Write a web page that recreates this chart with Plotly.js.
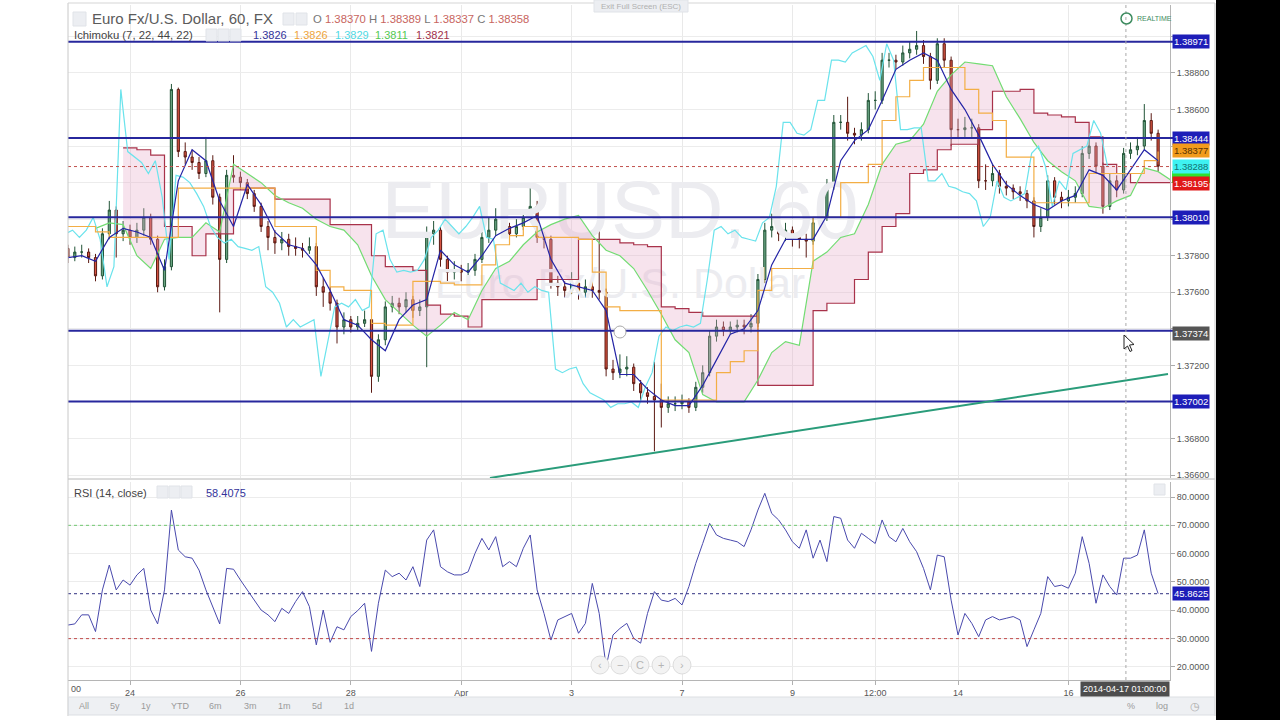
<!DOCTYPE html>
<html><head><meta charset="utf-8">
<script src="https://cdn.plot.ly/plotly-3.0.1.min.js"></script>
<style>html,body{margin:0;padding:0;background:#fff;overflow:hidden}#chart{width:1280px;height:720px}</style>
</head><body><div id="chart"></div>
<script>
// ---- DATA (EUR/USD, 60 min chart; bars aggregated every 3 hours) ----
// hours are counted from 2014-03-24 00:00 (trading hours)
const firstHour = -27;
const barStepHours = 3;
const lineStepHours = 6;
const chikouShiftHours = 22;

const openP = [1.3784,1.3779,1.3782,1.3782,1.3779,1.3769,1.3792,1.3805,1.3792,1.3794,
1.3790,1.3794,1.3801,1.3789,1.3763,1.3774,1.3871,1.3837,1.3834,1.3831,
1.3825,1.3832,1.3812,1.3778,1.3824,1.3823,1.3820,1.3814,1.3807,1.3796,
1.3790,1.3787,1.3789,1.3785,1.3784,1.3783,1.3785,1.3763,1.3760,1.3754,
1.3741,1.3745,1.3741,1.3743,1.3745,1.3714,1.3734,1.3752,1.3754,1.3752,
1.3756,1.3750,1.3752,1.3792,1.3794,1.3778,1.3771,1.3772,1.3771,1.3772,
1.3778,1.3790,1.3794,1.3800,1.3796,1.3792,1.3796,1.3801,1.3807,1.3790,
1.3789,1.3765,1.3763,1.3761,1.3765,1.3760,1.3763,1.3761,1.3760,1.3718,
1.3716,1.3718,1.3719,1.3710,1.3705,1.3703,1.3701,1.3697,1.3699,1.3699,
1.3700,1.3697,1.3708,1.3716,1.3736,1.3741,1.3739,1.3741,1.3742,1.3741,
1.3743,1.3767,1.3794,1.3796,1.3792,1.3794,1.3790,1.3789,1.3788,1.3798,
1.3801,1.3818,1.3853,1.3853,1.3847,1.3846,1.3849,1.3865,1.3865,1.3887,
1.3887,1.3886,1.3891,1.3893,1.3895,1.3889,1.3876,1.3896,1.3887,1.3849,
1.3849,1.3850,1.3850,1.3821,1.3821,1.3825,1.3818,1.3817,1.3815,1.3814,
1.3810,1.3796,1.3801,1.3821,1.3812,1.3810,1.3812,1.3814,1.3836,1.3840,
1.3829,1.3807,1.3821,1.3816,1.3836,1.3838,1.3840,1.3854,1.3847];

const highP = [1.3786,1.3785,1.3786,1.3784,1.3781,1.3795,1.3810,1.3807,1.3799,1.3797,
1.3798,1.3806,1.3803,1.3791,1.3778,1.3874,1.3872,1.3842,1.3838,1.3834,
1.3845,1.3835,1.3814,1.3827,1.3835,1.3826,1.3822,1.3816,1.3809,1.3799,
1.3794,1.3793,1.3792,1.3790,1.3787,1.3790,1.3787,1.3768,1.3763,1.3756,
1.3749,1.3747,1.3747,1.3750,1.3748,1.3737,1.3755,1.3758,1.3757,1.3760,
1.3758,1.3756,1.3796,1.3799,1.3796,1.3780,1.3777,1.3775,1.3776,1.3781,
1.3793,1.3801,1.3806,1.3804,1.3798,1.3800,1.3805,1.3819,1.3810,1.3793,
1.3791,1.3769,1.3766,1.3771,1.3768,1.3767,1.3766,1.3805,1.3762,1.3723,
1.3726,1.3725,1.3721,1.3712,1.3708,1.3722,1.3710,1.3703,1.3703,1.3704,
1.3702,1.3711,1.3720,1.3739,1.3745,1.3744,1.3744,1.3745,1.3745,1.3748,
1.3770,1.3798,1.3803,1.3799,1.3798,1.3796,1.3793,1.3792,1.3801,1.3806,
1.3822,1.3857,1.3857,1.3867,1.3850,1.3853,1.3869,1.3870,1.3891,1.3891,
1.3890,1.3895,1.3897,1.3903,1.3898,1.3891,1.3899,1.3899,1.3889,1.3855,
1.3856,1.3855,1.3852,1.3830,1.3830,1.3827,1.3821,1.3819,1.3818,1.3816,
1.3812,1.3806,1.3824,1.3823,1.3815,1.3816,1.3818,1.3840,1.3845,1.3842,
1.3831,1.3825,1.3824,1.3839,1.3842,1.3845,1.3863,1.3858,1.3849];

const lowP = [1.3776,1.3777,1.3779,1.3776,1.3766,1.3767,1.3789,1.3779,1.3788,1.3786,
1.3787,1.3791,1.3786,1.3760,1.3761,1.3772,1.3834,1.3830,1.3827,1.3822,
1.3823,1.3808,1.3749,1.3776,1.3820,1.3816,1.3811,1.3804,1.3793,1.3783,
1.3781,1.3783,1.3780,1.3780,1.3779,1.3781,1.3758,1.3752,1.3750,1.3732,
1.3737,1.3738,1.3739,1.3741,1.3705,1.3711,1.3731,1.3749,1.3748,1.3749,
1.3746,1.3747,1.3719,1.3786,1.3774,1.3765,1.3767,1.3766,1.3768,1.3769,
1.3776,1.3787,1.3791,1.3792,1.3789,1.3790,1.3794,1.3799,1.3787,1.3784,
1.3762,1.3758,1.3757,1.3759,1.3756,1.3757,1.3757,1.3756,1.3714,1.3712,
1.3713,1.3714,1.3706,1.3701,1.3699,1.3673,1.3686,1.3694,1.3695,1.3696,
1.3694,1.3695,1.3705,1.3714,1.3733,1.3736,1.3737,1.3738,1.3737,1.3738,
1.3741,1.3765,1.3790,1.3788,1.3788,1.3785,1.3784,1.3779,1.3786,1.3795,
1.3799,1.3816,1.3849,1.3843,1.3841,1.3843,1.3847,1.3860,1.3863,1.3883,
1.3882,1.3884,1.3888,1.3890,1.3885,1.3871,1.3874,1.3883,1.3840,1.3844,
1.3845,1.3845,1.3817,1.3816,1.3818,1.3814,1.3813,1.3811,1.3810,1.3806,
1.3790,1.3793,1.3799,1.3808,1.3806,1.3807,1.3809,1.3812,1.3833,1.3825,
1.3803,1.3805,1.3812,1.3814,1.3833,1.3835,1.3838,1.3843,1.3826];

const closeP = [1.3779,1.3782,1.3782,1.3779,1.3769,1.3792,1.3805,1.3792,1.3794,1.3790,
1.3794,1.3801,1.3789,1.3763,1.3774,1.3871,1.3837,1.3834,1.3831,1.3825,
1.3832,1.3812,1.3778,1.3824,1.3823,1.3820,1.3814,1.3807,1.3796,1.3790,
1.3787,1.3789,1.3785,1.3784,1.3783,1.3785,1.3763,1.3760,1.3754,1.3741,
1.3745,1.3741,1.3743,1.3745,1.3714,1.3734,1.3752,1.3754,1.3752,1.3756,
1.3750,1.3752,1.3792,1.3794,1.3778,1.3771,1.3772,1.3771,1.3772,1.3778,
1.3790,1.3794,1.3800,1.3796,1.3792,1.3796,1.3801,1.3807,1.3790,1.3789,
1.3765,1.3763,1.3761,1.3765,1.3760,1.3763,1.3761,1.3760,1.3718,1.3716,
1.3718,1.3719,1.3710,1.3705,1.3703,1.3701,1.3697,1.3699,1.3699,1.3700,
1.3697,1.3708,1.3716,1.3736,1.3741,1.3739,1.3741,1.3742,1.3741,1.3743,
1.3767,1.3794,1.3796,1.3792,1.3794,1.3790,1.3789,1.3788,1.3798,1.3801,
1.3818,1.3853,1.3853,1.3847,1.3846,1.3849,1.3865,1.3865,1.3887,1.3887,
1.3886,1.3891,1.3893,1.3895,1.3889,1.3876,1.3896,1.3887,1.3849,1.3849,
1.3850,1.3850,1.3821,1.3821,1.3825,1.3818,1.3817,1.3815,1.3814,1.3810,
1.3796,1.3801,1.3821,1.3812,1.3810,1.3812,1.3814,1.3836,1.3840,1.3829,
1.3807,1.3821,1.3816,1.3836,1.3838,1.3840,1.3854,1.3847,1.3829];

// Ichimoku (7, 22, 44, 22) lines, sampled every 6 hours
const tenkan = [1.3779,1.3780,1.3777,1.3790,1.3795,1.3793,1.3790,1.3772,1.3821,1.3838,
1.3832,1.3810,1.3796,1.3819,1.3808,1.3793,1.3786,1.3784,1.3775,1.3761,
1.3745,1.3742,1.3734,1.3728,1.3745,1.3753,1.3756,1.3783,1.3775,1.3771,
1.3780,1.3791,1.3795,1.3798,1.3802,1.3778,1.3765,1.3763,1.3761,1.3750,
1.3715,1.3715,1.3707,1.3701,1.3698,1.3698,1.3709,1.3723,1.3737,1.3740,
1.3750,1.3775,1.3789,1.3789,1.3789,1.3802,1.3832,1.3843,1.3849,1.3865,
1.3882,1.3887,1.3891,1.3887,1.3871,1.3860,1.3846,1.3830,1.3819,1.3813,
1.3808,1.3805,1.3810,1.3813,1.3827,1.3824,1.3816,1.3827,1.3838,1.3832];

const kijun = [1.3796,1.3796,1.3793,1.3790,1.3790,1.3790,1.3790,1.3790,1.3817,1.3817,
1.3817,1.3817,1.3817,1.3817,1.3817,1.3796,1.3796,1.3796,1.3772,1.3763,
1.3761,1.3761,1.3743,1.3742,1.3742,1.3766,1.3766,1.3765,1.3764,1.3764,
1.3775,1.3786,1.3791,1.3796,1.3790,1.3790,1.3790,1.3789,1.3771,1.3752,
1.3750,1.3750,1.3750,1.3701,1.3701,1.3701,1.3701,1.3716,1.3722,1.3728,
1.3761,1.3773,1.3773,1.3773,1.3801,1.3801,1.3820,1.3820,1.3830,1.3854,
1.3867,1.3876,1.3883,1.3883,1.3883,1.3871,1.3858,1.3854,1.3834,1.3834,
1.3809,1.3809,1.3809,1.3809,1.3825,1.3825,1.3825,1.3825,1.3832,1.3837];

const spanA = [null,null,1.3795,1.3798,1.3797,1.3780,1.3773,1.3789,1.3790,1.3790,
1.3798,1.3793,1.3830,1.3825,1.3820,1.3813,1.3809,1.3806,1.3800,1.3796,
1.3794,1.3786,1.3769,1.3756,1.3749,1.3742,1.3736,1.3742,1.3749,1.3745,
1.3761,1.3773,1.3777,1.3786,1.3793,1.3797,1.3800,1.3802,1.3791,1.3783,
1.3780,1.3773,1.3761,1.3748,1.3734,1.3727,1.3704,1.3700,1.3700,1.3700,
1.3712,1.3727,1.3733,1.3731,1.3777,1.3782,1.3790,1.3792,1.3808,1.3830,
1.3841,1.3843,1.3852,1.3870,1.3879,1.3886,1.3885,1.3884,1.3867,1.3855,
1.3842,1.3832,1.3826,1.3821,1.3807,1.3806,1.3810,1.3813,1.3828,1.3826,
1.3821];

const spanB = [null,null,null,null,1.3839,1.3838,1.3835,1.3796,1.3796,1.3780,
1.3792,1.3792,1.3816,1.3817,1.3817,1.3811,1.3811,1.3811,1.3811,1.3797,
1.3797,1.3797,1.3780,1.3774,1.3774,1.3772,1.3753,1.3748,1.3747,1.3741,
1.3756,1.3756,1.3756,1.3756,1.3767,1.3767,1.3767,1.3789,1.3789,1.3789,
1.3787,1.3786,1.3785,1.3752,1.3751,1.3749,1.3747,1.3747,1.3747,1.3747,
1.3709,1.3709,1.3709,1.3709,1.3750,1.3754,1.3754,1.3767,1.3782,1.3796,
1.3803,1.3825,1.3827,1.3838,1.3841,1.3841,1.3849,1.3870,1.3870,1.3871,
1.3858,1.3857,1.3856,1.3853,1.3845,1.3830,1.3825,1.3820,1.3820,1.3820,
1.3820];

// RSI (14, close), sampled every 3 hours
const rsi = [34.8,35.2,38.4,38.4,32.5,47.2,56.0,47.2,50.7,48.9,
52.5,54.8,40.1,35.2,47.2,75.4,61.3,58.9,58.4,54.2,
47.2,41.3,35.2,54.8,54.5,50.7,47.2,43.6,40.1,38.4,
36.0,40.7,38.9,43.1,46.6,41.3,27.8,40.1,28.7,34.2,
33.1,37.8,39.9,42.5,25.5,42.5,54.2,51.9,53.1,50.7,
55.4,48.4,64.8,68.4,55.4,53.6,52.5,52.5,53.6,60.1,
65.4,61.3,66.0,55.4,57.2,55.4,61.9,66.6,47.2,38.9,
29.5,36.6,37.8,38.9,31.9,35.4,49.5,38.9,20.1,31.3,
33.6,35.4,30.1,28.4,38.9,46.6,43.6,43.1,44.2,41.9,
48.4,56.6,63.6,70.7,66.6,65.4,64.8,64.2,62.5,68.4,
75.4,81.3,74.2,71.9,68.4,64.2,61.9,68.4,58.4,64.8,
57.2,73.1,72.5,64.8,61.9,67.2,65.4,63.6,71.9,66.0,
64.2,68.9,64.2,60.7,54.8,47.2,59.5,58.9,43.6,31.3,
38.9,35.4,30.7,36.6,37.8,36.6,37.2,37.8,36.6,27.2,
33.1,38.9,51.9,48.4,48.9,47.8,53.1,66.0,56.6,42.5,
52.5,48.4,45.4,58.4,58.4,59.5,68.4,53.1,45.9];

// x axis tick labels (hours from 2014-03-24 00:00)
const tickHours = [0, 48, 96, 144, 192, 240, 288, 324, 360, 408];
const tickLabels = ['24', '26', '28', 'Apr', '3', '7', '9', '12:00', '14', '16'];
// price axis ticks (labels hidden where a price tag covers them in the picture)
const priceTicks = [1.366, 1.368, 1.370, 1.372, 1.374, 1.376, 1.378, 1.380, 1.382, 1.384, 1.386, 1.388, 1.390];
const priceTickText = ['1.36600', '1.36800', '', '1.37200', '', '1.37600', '1.37800', '', '', '', '1.38600', '1.38800', ''];
const rsiTicks = [20, 30, 40, 50, 60, 70, 80];
const rsiTickText = ['20.0000', '30.0000', '40.0000', '50.0000', '60.0000', '70.0000', '80.0000'];

// horizontal drawn levels, trend line, last values
const levelPrices = [1.38971, 1.38444, 1.38010, 1.37390, 1.37002];
const trendHours = [156.5, 451.3];
const trendPrices = [1.36584, 1.37153];
const lastClose = 1.38288;
const kijunLast = 1.38377;
const spanALast = 1.38231;
const spanBLast = 1.38195;
const crosshairPrice = 1.37374;
const crosshairHour = 433;
const rsiLast = 45.8625;
const rsiLevels = [70, 30];

// ---- helpers (layout geometry) ----
const P = {L:68, R:1170, T:5, B:680};
const X_RANGE = [-26.96, 452.17];
const Y_RANGE = [1.365836, 1.391721];
const px = x => (x - P.L) / (P.R - P.L);
const py = y => (P.B - y) / (P.B - P.T);
const hourAt = x => X_RANGE[0] + (x - P.L) * (X_RANGE[1] - X_RANGE[0]) / (P.R - P.L);
const priceAt = y => Y_RANGE[1] - (y - 5) * (Y_RANGE[1] - Y_RANGE[0]) / 473;

const barX = closeP.map((_, i) => firstHour + barStepHours * i);
const lineX = tenkan.map((_, i) => firstHour + lineStepHours * i);
const spanX = spanA.map((_, i) => firstHour + lineStepHours * i);
const chikouX = barX.map(h => h - chikouShiftHours);
const fillStart = 4;

const FONT = 'Arial, "Liberation Sans", sans-serif';
const traces = [];
// watermark
traces.push({type:'scatter', mode:'text', x:[hourAt(620)], y:[priceAt(218)], text:['EURUSD, 60'],
  textfont:{size:81, color:'#ececf0', family:FONT}, hoverinfo:'skip', xaxis:'x', yaxis:'y'});
traces.push({type:'scatter', mode:'text', x:[hourAt(620)], y:[priceAt(287)], text:['Euro Fx/U.S. Dollar'],
  textfont:{size:43, color:'#ececf0', family:FONT}, hoverinfo:'skip', xaxis:'x', yaxis:'y'});
// cloud
traces.push({type:'scatter', mode:'lines', x:spanX.slice(fillStart), y:spanB.slice(fillStart),
  line:{width:0, shape:'hv'}, hoverinfo:'skip', xaxis:'x', yaxis:'y'});
traces.push({type:'scatter', mode:'lines', x:spanX.slice(fillStart), y:spanA.slice(fillStart),
  line:{width:0}, fill:'tonexty', fillcolor:'rgba(232,170,200,0.33)', hoverinfo:'skip', xaxis:'x', yaxis:'y'});
traces.push({type:'scatter', mode:'lines', x:spanX, y:spanB, line:{color:'#a8324a', width:1.2, shape:'hv'}, xaxis:'x', yaxis:'y'});
traces.push({type:'scatter', mode:'lines', x:spanX, y:spanA, line:{color:'#72dc72', width:1.2}, xaxis:'x', yaxis:'y'});
traces.push({type:'scatter', mode:'lines', x:chikouX, y:closeP, line:{color:'#6ae3ec', width:1.2}, xaxis:'x', yaxis:'y'});
traces.push({type:'scatter', mode:'lines', x:lineX, y:kijun, line:{color:'#f3ae45', width:1.2, shape:'hv'}, xaxis:'x', yaxis:'y'});
traces.push({type:'candlestick', x:barX, open:openP, high:highP, low:lowP, close:closeP,
  increasing:{line:{color:'#225437', width:1}, fillcolor:'#6ba583'},
  decreasing:{line:{color:'#5b1a13', width:1}, fillcolor:'#d75442'},
  whiskerwidth:0, hoverinfo:'skip', xaxis:'x', yaxis:'y'});
traces.push({type:'scatter', mode:'lines', x:lineX, y:tenkan, line:{color:'#2424a6', width:1.2}, xaxis:'x', yaxis:'y'});
traces.push({type:'scatter', mode:'lines', x:barX, y:rsi, line:{color:'#4949ad', width:1}, xaxis:'x', yaxis:'y2'});

const shapes = [];
const BLUE = '#1d1db8';
levelPrices.forEach(v => shapes.push({type:'line', xref:'paper', x0:0, x1:px(1173), yref:'y', y0:v, y1:v,
  line:{color:'#27279d', width:2}, layer:'above'}));
shapes.push({type:'line', xref:'paper', x0:0, x1:1, yref:'y', y0:lastClose, y1:lastClose,
  line:{color:'#c0504d', width:1, dash:'dot'}, layer:'above'});
shapes.push({type:'line', xref:'x', yref:'y', x0:trendHours[0], x1:trendHours[1], y0:trendPrices[0], y1:trendPrices[1],
  line:{color:'#2a9c7a', width:2}, layer:'above'});
shapes.push({type:'line', xref:'paper', x0:0, x1:1, yref:'y2', y0:rsiLevels[0], y1:rsiLevels[0], line:{color:'#70c870', width:1, dash:'dot'}});
shapes.push({type:'line', xref:'paper', x0:0, x1:1, yref:'y2', y0:rsiLevels[1], y1:rsiLevels[1], line:{color:'#c04848', width:1, dash:'dot'}});
shapes.push({type:'line', xref:'paper', x0:0, x1:1, yref:'y2', y0:rsiLast, y1:rsiLast, line:{color:'#303080', width:1, dash:'dot'}});
// crosshair vertical
shapes.push({type:'line', xref:'x', x0:crosshairHour, x1:crosshairHour, yref:'paper', y0:0, y1:1,
  line:{color:'#aaaaaa', width:1, dash:'dot'}, layer:'above'});
// panel separators / frame
shapes.push({type:'line', xref:'paper', yref:'paper', x0:0, x1:px(1215), y0:py(479), y1:py(479), line:{color:'#b8b8b8', width:1}});
shapes.push({type:'line', xref:'paper', yref:'paper', x0:0, x1:0, y0:py(716), y1:py(3), line:{color:'#c8c8c8', width:1}});
shapes.push({type:'line', xref:'paper', yref:'paper', x0:px(1215), x1:px(1215), y0:py(716), y1:py(3), line:{color:'#c8c8c8', width:1}});
shapes.push({type:'line', xref:'paper', yref:'paper', x0:0, x1:px(1215), y0:py(3), y1:py(3), line:{color:'#d5d5d5', width:1}});
// bottom toolbar
shapes.push({type:'rect', xref:'paper', yref:'paper', x0:px(68.5), x1:px(1214.5), y0:py(715), y1:py(697),
  fillcolor:'#eef0f3', line:{color:'#dcdfe3', width:1}});
// right black strip
shapes.push({type:'rect', xref:'paper', yref:'paper', x0:px(1216), x1:px(1300), y0:py(740), y1:py(-20),
  fillcolor:'#000000', line:{width:0}, layer:'above'});
// span A price tag (mostly covered by neighbouring tags in the picture)
shapes.push({type:'rect', xref:'paper', x0:px(1172), x1:px(1210), yref:'y', ysizemode:'pixel', yanchor:spanALast,
  y0:-6, y1:6, fillcolor:'#2fe02f', line:{width:0}, layer:'above'});
// header icon boxes
[[73,86,12,26],[283,294,13,25],[296,307,13,25],[206,217,29,41],[218,229,29,41],[230,241,29,41],
 [157,168,486,498],[169,180,486,498],[181,192,486,498],[1154,1165,484,495],[594,688,0,12]].forEach(b =>
  shapes.push({type:'rect', xref:'paper', yref:'paper', x0:px(b[0]), x1:px(b[1]), y0:py(b[3]), y1:py(b[2]),
    fillcolor:'#eceef2', line:{color:'#e0e3e8', width:1}, layer:'above'}));
// realtime clock icon
shapes.push({type:'circle', xref:'paper', yref:'paper', x0:px(1121), x1:px(1132), y0:py(24), y1:py(13),
  line:{color:'#3e8c60', width:1.5}, layer:'above'});
// drawing anchor circle
shapes.push({type:'circle', xref:'paper', yref:'paper', x0:px(614), x1:px(626), y0:py(338), y1:py(326),
  fillcolor:'#ffffff', line:{color:'#aaaaaa', width:1}, layer:'above'});
// RSI navigation buttons
const navX = [600, 620, 640, 661, 682];
const navGlyph = ['‹', '−', 'C', '+', '›'];
navX.forEach(x => shapes.push({type:'circle', xref:'paper', yref:'paper', x0:px(x-9), x1:px(x+9), y0:py(674), y1:py(656),
  fillcolor:'#f3f3f3', line:{color:'#dddddd', width:1}, layer:'above'}));
// mouse cursor arrow
const cur = [[1124,335],[1124,349],[1127.5,346],[1130,351.5],[1132,350.5],[1129.5,345],[1134,344.5]];
shapes.push({type:'path', xref:'paper', yref:'paper',
  path: 'M' + cur.map(p => px(p[0]) + ',' + py(p[1])).join(' L') + ' Z',
  fillcolor:'#ffffff', line:{color:'#222222', width:1}, layer:'above'});

const ann = [];
function A(text, x, y, o) {
  ann.push(Object.assign({text:text, xref:'paper', yref:'paper', x:px(x), y:py(y), xanchor:'left', yanchor:'middle',
    showarrow:false, font:{family:FONT, size:11, color:'#444'}}, o || {}));
}
A('Euro Fx/U.S. Dollar, 60, FX', 90, 19, {font:{family:FONT, size:15, color:'#5b5b5b'}});
const ohlcLbl = ['O','H','L','C'];
const ohlcVal = ['1.38370','1.38389','1.38337','1.38358'];
A(ohlcLbl.map((l,i) => '<span style="color:#777">'+l+'</span> <span style="color:#c8655e">'+ohlcVal[i]+'</span>').join(' '),
  311, 19, {font:{family:FONT, size:11.3}});
A('Ichimoku (7, 22, 44, 22)', 72, 35, {font:{family:FONT, size:11.3, color:'#444'}});
const ichiVals = ['1.3826','1.3826','1.3829','1.3811','1.3821'];
const ichiCols = ['#33339a','#eea43c','#4fd9e4','#52c952','#a0304a'];
const ichiPos = [251, 292, 333, 373, 414];
ichiVals.forEach((v,i) => A(v, ichiPos[i], 35, {font:{family:FONT, size:11, color:ichiCols[i]}}));
A('Exit Full Screen (ESC)', 641, 6, {xanchor:'center', font:{family:FONT, size:8, color:'#b0b0b0'}});
A('REALTIME', 1135, 18.5, {font:{family:FONT, size:7, color:'#3e8c60'}});
A('RSI (14, close)', 72, 492.5, {font:{family:FONT, size:11, color:'#444'}});
A('58.4075', 204, 492.5, {font:{family:FONT, size:11, color:'#33339a'}});
A('00', 69, 689, {font:{family:FONT, size:9, color:'#555'}});
A('2014-04-17 01:00:00', 1125, 689, {xanchor:'center', bgcolor:'#4d4d4d', borderpad:2, font:{family:FONT, size:9, color:'#ffffff'}});
navX.forEach((x,i) => A(navGlyph[i], x, 665, {xanchor:'center', font:{family:FONT, size:11, color:'#b5b5b5'}}));
const tb = ['All','5y','1y','YTD','6m','3m','1m','5d','1d'];
const tbX = [84, 115, 146, 180, 215, 250, 284, 317, 349];
tb.forEach((t,i) => A(t, tbX[i], 706, {xanchor:'center', font:{family:FONT, size:9, color:'#9a9a9a'}}));
A('%', 1131, 706, {xanchor:'center', font:{family:FONT, size:9, color:'#9a9a9a'}});
A('log', 1162, 706, {xanchor:'center', font:{family:FONT, size:9, color:'#9a9a9a'}});
A('◷', 1195, 706, {xanchor:'center', font:{family:FONT, size:11, color:'#aaaaaa'}});
// price tags on right axis
function tag(v, bg, fg, yref) {
  ann.push({text: yref === 'y2' ? v.toFixed(4) : v.toFixed(5), xref:'paper', x:px(1172), xanchor:'left',
    yref: yref || 'y', y:v, yanchor:'middle', showarrow:false, bgcolor:bg, borderpad:1,
    font:{family:FONT, size:9.5, color:fg}});
}
tag(levelPrices[0], BLUE, '#fff');
tag(levelPrices[1], BLUE, '#fff');
tag(kijunLast, '#f29b1c', '#5a3300');
tag(lastClose, '#3ef2f2', '#147070');
tag(spanBLast, '#e01818', '#fff');
tag(levelPrices[2], BLUE, '#fff');
tag(crosshairPrice, '#555555', '#fff');
tag(levelPrices[4], BLUE, '#fff');
tag(rsiLast, BLUE, '#fff', 'y2');

const axisFont = {family:FONT, size:9, color:'#555'};
const layout = {
  width:1280, height:720, margin:{l:P.L, r:1280-P.R, t:P.T, b:720-P.B, pad:0},
  paper_bgcolor:'#ffffff', plot_bgcolor:'#ffffff', showlegend:false, dragmode:false,
  boxgap:0.55,
  font:{family:FONT, color:'#555'},
  xaxis:{range:X_RANGE, tickmode:'array', tickvals:tickHours, ticktext:tickLabels, showgrid:true,
    gridcolor:'#e9e9e9', zeroline:false, ticks:'outside', ticklen:4, tickcolor:'#b0b0b0', tickfont:axisFont,
    showline:true, linecolor:'#b5b5b5', anchor:'y2', rangeslider:{visible:false}, fixedrange:true},
  yaxis:{domain:[py(478), 1], side:'right', range:Y_RANGE, tickmode:'array', tickvals:priceTicks, ticktext:priceTickText,
    showgrid:true, gridcolor:'#ececec', zeroline:false, ticks:'outside', ticklen:4, tickcolor:'#aaa',
    tickfont:axisFont, showline:true, linecolor:'#b5b5b5', fixedrange:true},
  yaxis2:{domain:[0, py(482)], side:'right', range:[15.4, 85.3], tickmode:'array', tickvals:rsiTicks, ticktext:rsiTickText,
    showgrid:true, gridcolor:'#ececec', zeroline:false, ticks:'outside', ticklen:4, tickcolor:'#aaa',
    tickfont:axisFont, showline:true, linecolor:'#b5b5b5', fixedrange:true},
  shapes:shapes, annotations:ann
};
Plotly.newPlot('chart', traces, layout, {displayModeBar:false, staticPlot:true});
</script>
</body></html>
